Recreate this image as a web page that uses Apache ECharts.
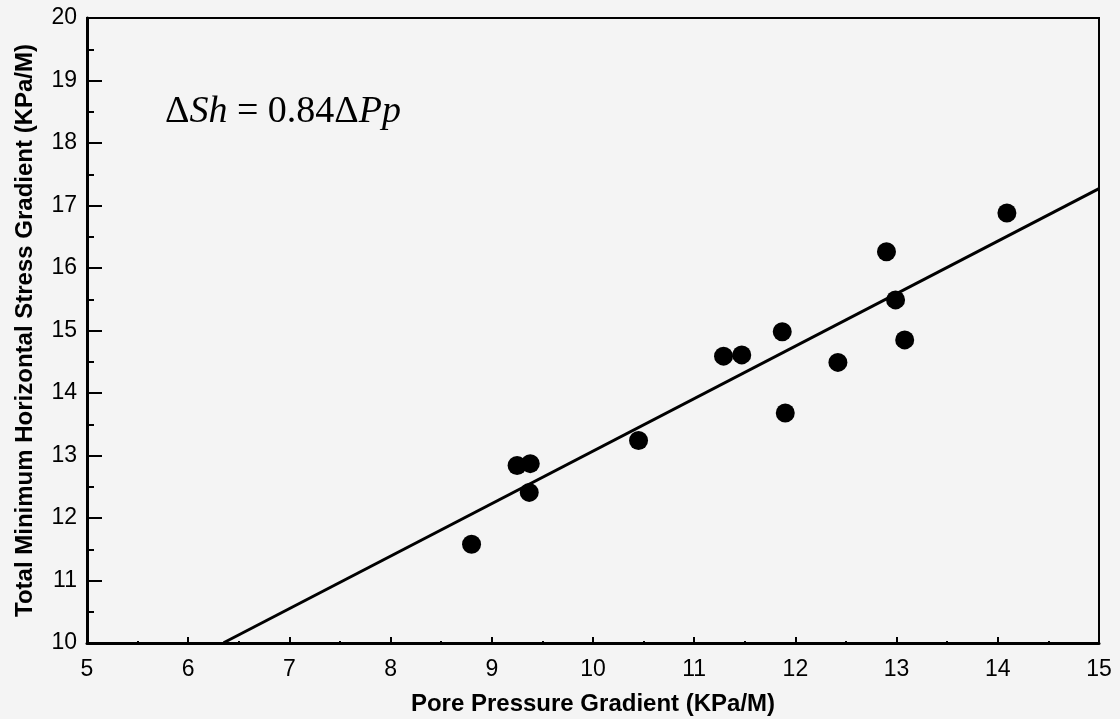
<!DOCTYPE html>
<html>
<head>
<meta charset="utf-8">
<script src="https://cdn.jsdelivr.net/npm/echarts@6/dist/echarts.min.js"></script>
<style>
  html, body { margin: 0; padding: 0; background: #f4f4f4; }
  #chart { width: 1120px; height: 719px; }
</style>
</head>
<body>
<div id="chart"></div>
<script>
// Pore pressure gradient vs. total minimum horizontal stress gradient (KPa/M)
const porePressure = [8.80, 9.25, 9.38, 9.37, 10.45, 11.29, 11.47, 11.87, 11.90, 12.42, 12.90, 12.99, 13.08, 14.09];
const minStress    = [11.58, 12.84, 12.87, 12.41, 13.24, 14.59, 14.61, 14.98, 13.68, 14.49, 16.26, 15.49, 14.85, 16.88];

// Fitted trend: ΔSh = 0.84 ΔPp
const fitSlope = 0.84;
const fitIntercept = 4.67;
const fitRange = [6.35, 15];

const xRange = [5, 15];
const yRange = [10, 20];

const points = porePressure.map((x, i) => [x, minStress[i]]);
const fitLine = fitRange.map(x => [x, fitSlope * x + fitIntercept]);

const chart = echarts.init(document.getElementById('chart'), null, { renderer: 'canvas' });

const labelFont = { color: '#000', fontFamily: 'Liberation Sans, Arial, sans-serif', fontSize: 23 };
const nameFont = { color: '#000', fontFamily: 'Liberation Sans, Arial, sans-serif', fontSize: 24, fontWeight: 'bold' };

chart.setOption({
  backgroundColor: '#f4f4f4',
  animation: false,
  grid: {
    left: 87, right: 21, top: 18, bottom: 76,
    outerBoundsMode: 'none', containLabel: false,
    show: true, borderColor: '#000', borderWidth: 2, backgroundColor: 'transparent'
  },
  xAxis: {
    type: 'value', min: xRange[0], max: xRange[1], interval: 1,
    name: 'Pore Pressure Gradient (KPa/M)', nameLocation: 'middle', nameGap: 49,
    nameTextStyle: nameFont,
    axisLine: { show: true, lineStyle: { color: '#000', width: 3 } },
    axisTick: { show: true, inside: true, length: 6, lineStyle: { color: '#000', width: 2 } },
    minorTick: { show: true, splitNumber: 2, length: 2, lineStyle: { color: '#000', width: 2 } },
    axisLabel: Object.assign({ margin: 15 }, labelFont),
    splitLine: { show: false }
  },
  yAxis: {
    type: 'value', min: yRange[0], max: yRange[1], interval: 1,
    name: 'Total Minimum Horizontal Stress Gradient (KPa/M)', nameLocation: 'middle', nameGap: 50,
    nameTextStyle: nameFont,
    axisLine: { show: true, lineStyle: { color: '#000', width: 3 } },
    axisTick: { show: true, inside: true, length: 15, lineStyle: { color: '#000', width: 2 } },
    minorTick: { show: true, splitNumber: 2, length: 7, lineStyle: { color: '#000', width: 2 } },
    axisLabel: Object.assign({ margin: 10 }, labelFont),
    splitLine: { show: false }
  },
  graphic: [{
    type: 'text', left: 165, top: 93,
    style: {
      text: '{n|Δ}{i|Sh}{n| = 0.84Δ}{i|Pp}',
      rich: {
        n: { fontFamily: 'Liberation Serif, DejaVu Serif, serif', fontSize: 38, fill: '#000' },
        i: { fontFamily: 'Liberation Serif, DejaVu Serif, serif', fontSize: 38, fontStyle: 'italic', fill: '#000' }
      }
    }
  }],
  series: [
    {
      type: 'line', data: fitLine, showSymbol: false, symbol: 'none',
      lineStyle: { color: '#000', width: 3 }, z: 2, clip: true
    },
    {
      type: 'scatter', data: points, symbol: 'circle', symbolSize: 19,
      itemStyle: { color: '#000', opacity: 1 }, z: 3
    }
  ]
});
</script>
</body>
</html>
